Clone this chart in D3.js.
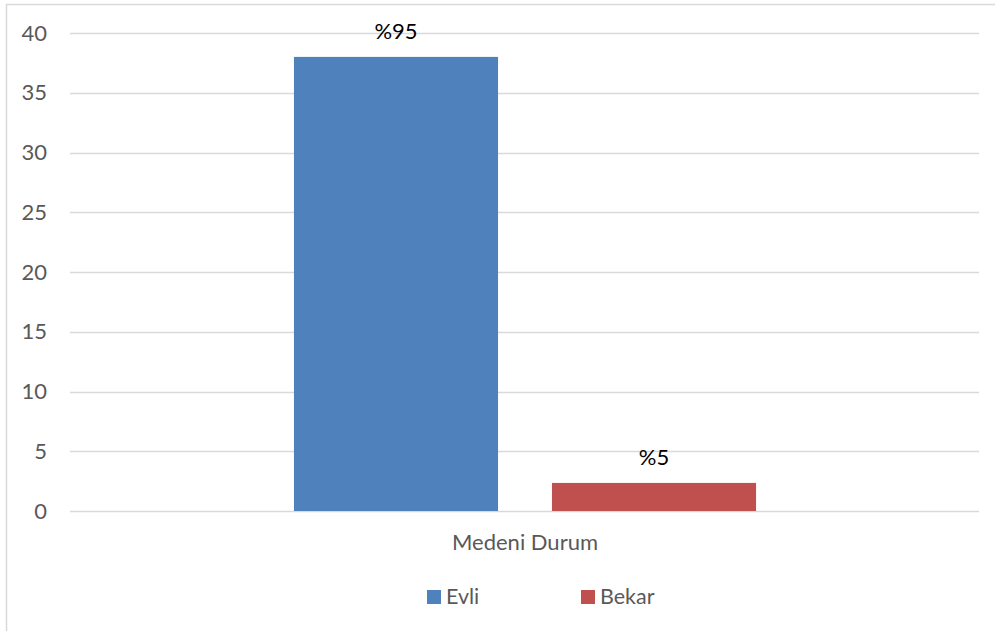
<!DOCTYPE html>
<html>
<head>
<meta charset="utf-8">
<script src="https://cdn.jsdelivr.net/npm/d3@7"></script>
<style>
  html, body { margin: 0; padding: 0; background: #fff; }
  svg { display: block; font-family: Lato, "Open Sans", sans-serif; }
</style>
</head>
<body>
<svg id="chart" width="995" height="631"></svg>
<script>
const categories = ["Medeni Durum"];
const seriesNames = ["Evli", "Bekar"];
const seriesValues = [38, 2.35];
const dataLabels = ["%95", "%5"];
const seriesColors = ["#4f81bd", "#c0504d"];
const yTicks = [0, 5, 10, 15, 20, 25, 30, 35, 40];

const svg = d3.select("#chart");
const W = 995, H = 631;
const plot = { left: 70, right: 980, top: 33, bottom: 511 };

// chart frame
svg.append("rect")
  .attr("x", 6.5).attr("y", 4.5)
  .attr("width", W + 10).attr("height", H + 10)
  .attr("fill", "#fff").attr("stroke", "#d9d9d9").attr("stroke-width", 1.5);

const y = d3.scaleLinear().domain([0, 40]).range([plot.bottom, plot.top]);
const x0 = d3.scaleBand().domain(categories).range([plot.left, plot.right]).padding(0);
const x1 = d3.scaleBand().domain(seriesNames).range([0, x0.bandwidth()])
  .paddingInner(0.209).paddingOuter(0.868);

// gridlines
svg.append("g").selectAll("line").data(yTicks).join("line")
  .attr("x1", plot.left).attr("x2", plot.right - 1)
  .attr("y1", d => Math.round(y(d)) + 0.5).attr("y2", d => Math.round(y(d)) + 0.5)
  .attr("stroke", "#d9d9d9").attr("stroke-width", 1.5);

// y axis labels
const yAxis = d3.axisLeft(y).tickValues(yTicks).tickSize(0).tickPadding(0);
const ga = svg.append("g").attr("transform", `translate(47,0)`).call(yAxis);
ga.select(".domain").remove();
ga.selectAll("text").attr("fill", "#595959").style("font-size", "22px")
  .style("font-family", "Lato, sans-serif");

// bars
const g = svg.append("g").attr("transform", `translate(${x0(categories[0])},0)`);
g.selectAll("rect").data(seriesNames).join("rect")
  .attr("x", d => x1(d))
  .attr("width", x1.bandwidth())
  .attr("y", (d, i) => y(seriesValues[i]))
  .attr("height", (d, i) => y(0) - y(seriesValues[i]))
  .attr("fill", (d, i) => seriesColors[i]);

// data labels
g.selectAll("text.lbl").data(seriesNames).join("text")
  .attr("class", "lbl")
  .attr("x", d => x1(d) + x1.bandwidth() / 2)
  .attr("y", (d, i) => y(seriesValues[i]) - 18)
  .attr("text-anchor", "middle")
  .attr("fill", "#000")
  .style("font-size", "22px")
  .text((d, i) => dataLabels[i]);

// category label
svg.append("text")
  .attr("x", x0(categories[0]) + x0.bandwidth() / 2)
  .attr("y", 550)
  .attr("text-anchor", "middle")
  .attr("fill", "#595959")
  .style("font-size", "22px")
  .text(categories[0]);

// legend
const legendX = [427, 581];
const lg = svg.append("g");
seriesNames.forEach((s, i) => {
  lg.append("rect").attr("x", legendX[i]).attr("y", 590)
    .attr("width", 14).attr("height", 14).attr("fill", seriesColors[i]);
  lg.append("text").attr("x", legendX[i] + 19).attr("y", 604)
    .attr("fill", "#595959").style("font-size", "21.5px").text(s);
});
</script>
</body>
</html>
